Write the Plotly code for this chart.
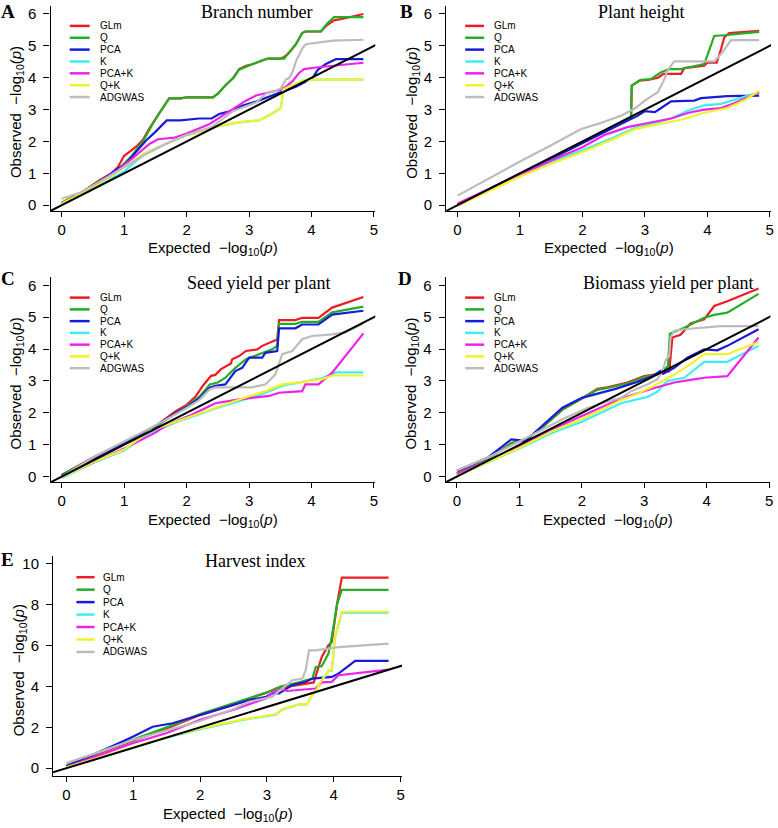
import plotly.graph_objects as go

W, H = 778, 828

series_names = ["GLm", "Q", "PCA", "K", "PCA+K", "Q+K", "ADGWAS"]
series_colors = ["#ec1c24", "#22b022", "#1a1ad8", "#40eef0", "#ee22ee", "#f2f22a", "#bcbcbc"]

panel_titles = ["Branch number", "Plant height", "Seed yield per plant",
                "Biomass yield per plant", "Harvest index"]
panel_letters = ["A", "B", "C", "D", "E"]

x_ticks = [0, 1, 2, 3, 4, 5]
y_ticks_6 = [0, 1, 2, 3, 4, 5, 6]
y_ticks_10 = [0, 2, 4, 6, 8, 10]

# ---------------- Panel A: Branch number ----------------
A_GLm = [[0, 0.08], [0.3, 0.38], [0.6, 0.78], [0.8, 1.0], [0.9, 1.2], [1.0, 1.55], [1.1, 1.7], [1.2, 1.85],
         [1.3, 2.05], [1.4, 2.4], [1.5, 2.7], [1.6, 3.0], [1.72, 3.35], [1.9, 3.35], [2.0, 3.38], [2.42, 3.38],
         [2.5, 3.5], [2.63, 3.78], [2.75, 4.0], [2.84, 4.27], [2.95, 4.37], [3.05, 4.42], [3.21, 4.55],
         [3.3, 4.6], [3.5, 4.6], [3.56, 4.65], [3.62, 4.75], [3.67, 4.85], [3.75, 5.05], [3.85, 5.4],
         [3.9, 5.45], [4.15, 5.45], [4.25, 5.65], [4.36, 5.8], [4.5, 5.85], [4.7, 5.95], [4.83, 6.0]]
A_Q = [[0, 0.08], [0.3, 0.36], [0.6, 0.75], [0.8, 0.95], [0.9, 1.12], [1.0, 1.3], [1.1, 1.5], [1.2, 1.75],
       [1.3, 2.0], [1.4, 2.35], [1.5, 2.7], [1.6, 3.0], [1.72, 3.35], [1.9, 3.35], [2.0, 3.38], [2.42, 3.38],
       [2.5, 3.5], [2.63, 3.78], [2.75, 4.0], [2.84, 4.25], [2.95, 4.35], [3.05, 4.42], [3.21, 4.55],
       [3.3, 4.6], [3.56, 4.6], [3.62, 4.75], [3.67, 4.85], [3.75, 5.05], [3.85, 5.4], [3.9, 5.45],
       [4.15, 5.45], [4.25, 5.7], [4.36, 5.9], [4.83, 5.9]]
A_PCA = [[0, 0.05], [0.3, 0.35], [0.6, 0.72], [0.9, 1.15], [1.0, 1.25], [1.2, 1.7], [1.35, 2.03], [1.5, 2.3],
         [1.57, 2.45], [1.68, 2.66], [1.9, 2.66], [2.2, 2.72], [2.4, 2.72], [2.52, 2.86], [2.7, 2.95],
         [2.9, 3.13], [3.11, 3.25], [3.25, 3.35], [3.38, 3.44], [3.59, 3.59], [3.75, 3.72], [3.91, 3.88],
         [4.02, 4.0], [4.1, 4.25], [4.23, 4.43], [4.39, 4.58], [4.83, 4.58]]
A_K = [[0, 0.03], [0.3, 0.3], [0.6, 0.62], [0.8, 0.85], [1.0, 1.06], [1.2, 1.4], [1.35, 1.65], [1.67, 1.93],
       [2.0, 2.2], [2.21, 2.29], [2.52, 2.49], [2.84, 2.6], [3.16, 2.66], [3.32, 2.82], [3.45, 2.97],
       [3.51, 3.07], [3.55, 3.62], [3.64, 3.72], [3.75, 3.8], [3.85, 3.9], [4.02, 3.94], [4.83, 3.94]]
A_PCAK = [[0, 0.05], [0.3, 0.35], [0.6, 0.72], [0.9, 1.1], [1.15, 1.5], [1.3, 1.75], [1.41, 1.93],
          [1.54, 2.07], [1.81, 2.12], [1.99, 2.24], [2.2, 2.4], [2.37, 2.55], [2.55, 2.78], [2.74, 3.02],
          [2.95, 3.28], [3.11, 3.44], [3.38, 3.55], [3.5, 3.62], [3.59, 3.72], [3.7, 3.9], [3.8, 4.15],
          [3.88, 4.27], [4.07, 4.32], [4.4, 4.38], [4.83, 4.47]]
A_QK = [[0, 0.05], [0.3, 0.35], [0.6, 0.68], [0.8, 0.92], [1.0, 1.2], [1.3, 1.6], [1.67, 1.93], [2.0, 2.2],
        [2.21, 2.29], [2.52, 2.49], [2.84, 2.6], [3.16, 2.66], [3.32, 2.82], [3.45, 2.97], [3.51, 3.07],
        [3.55, 3.64], [3.64, 3.72], [3.75, 3.8], [3.85, 3.9], [4.02, 3.94], [4.83, 3.94]]
A_ADGWAS = [[0, 0.2], [0.3, 0.4], [0.6, 0.72], [1.0, 1.18], [1.3, 1.55], [1.67, 1.93], [2.0, 2.2],
            [2.4, 2.45], [2.74, 2.95], [3.11, 3.22], [3.27, 3.5], [3.43, 3.59], [3.51, 3.67], [3.59, 3.95],
            [3.64, 3.98], [3.7, 4.2], [3.75, 4.52], [3.86, 4.94], [3.91, 5.05], [4.34, 5.16], [4.83, 5.19]]

# ---------------- Panel B: Plant height ----------------
B_GLm = [[0, 0.02], [1, 0.97], [2, 1.95], [2.5, 2.45], [2.7, 2.68], [2.78, 2.76], [2.79, 3.75], [2.91, 3.91],
         [3.05, 3.93], [3.21, 4.0], [3.3, 4.12], [3.58, 4.12], [3.63, 4.3], [3.95, 4.38], [4.0, 4.47],
         [4.15, 4.47], [4.22, 4.9], [4.27, 5.26], [4.35, 5.4], [4.83, 5.47]]
B_Q = [[0, 0.02], [1, 0.97], [2, 1.95], [2.5, 2.45], [2.7, 2.68], [2.78, 2.76], [2.79, 3.75], [2.94, 3.93],
       [3.1, 3.96], [3.26, 4.17], [3.39, 4.27], [3.58, 4.27], [3.69, 4.32], [3.95, 4.43], [4.0, 4.69],
       [4.11, 5.31], [4.32, 5.34], [4.83, 5.44]]
B_PCA = [[0, 0.02], [1, 0.98], [2, 1.95], [2.3, 2.25], [2.62, 2.55], [2.89, 2.81], [3.0, 2.95], [3.16, 2.92],
         [3.26, 3.05], [3.42, 3.26], [3.79, 3.28], [3.9, 3.36], [4.32, 3.42], [4.83, 3.44]]
B_K = [[0, 0.0], [0.5, 0.47], [1, 0.92], [1.5, 1.36], [2, 1.72], [2.5, 2.12], [2.83, 2.42], [3.16, 2.57],
       [3.47, 2.76], [3.69, 2.97], [3.95, 3.13], [4.22, 3.18], [4.59, 3.39], [4.83, 3.54]]
B_PCAK = [[0, 0.05], [0.5, 0.5], [1, 0.95], [1.5, 1.4], [2, 1.82], [2.35, 2.2], [2.5, 2.3], [2.72, 2.45],
          [3.05, 2.58], [3.42, 2.72], [3.7, 2.9], [3.95, 3.0], [4.22, 3.05], [4.43, 3.2], [4.83, 3.54]]
B_QK = [[0, -0.02], [0.5, 0.45], [1, 0.9], [1.5, 1.3], [2, 1.67], [2.5, 2.08], [2.83, 2.38], [3.16, 2.52],
        [3.58, 2.68], [3.95, 2.9], [4.32, 3.05], [4.6, 3.3], [4.83, 3.59]]
B_ADGWAS = [[0, 0.3], [0.49, 0.83], [1.0, 1.37], [1.5, 1.88], [1.98, 2.39], [2.25, 2.55], [2.62, 2.81],
            [2.85, 3.05], [3.0, 3.28], [3.21, 3.55], [3.3, 3.9], [3.37, 4.25], [3.47, 4.51], [4.11, 4.51],
            [4.22, 4.74], [4.38, 5.18], [4.83, 5.18]]

# ---------------- Panel C: Seed yield per plant ----------------
C_GLm = [[0, 0.05], [0.5, 0.6], [1, 1.08], [1.5, 1.58], [1.83, 2.06], [2.0, 2.25], [2.15, 2.53], [2.26, 2.85],
         [2.39, 3.16], [2.46, 3.19], [2.55, 3.37], [2.71, 3.55], [2.73, 3.68], [2.84, 3.78], [2.95, 3.94],
         [3.13, 3.99], [3.21, 4.1], [3.32, 4.2], [3.45, 4.3], [3.48, 4.91], [3.74, 4.91], [3.85, 4.98],
         [4.11, 4.98], [4.33, 5.3], [4.83, 5.63]]
C_Q = [[0, 0.05], [0.5, 0.58], [1, 1.06], [1.5, 1.55], [1.83, 2.0], [2.0, 2.2], [2.2, 2.5], [2.37, 2.89],
       [2.5, 2.95], [2.62, 3.1], [2.78, 3.41], [2.95, 3.68], [3.16, 3.84], [3.37, 3.99], [3.45, 4.1],
       [3.48, 4.79], [3.74, 4.79], [3.85, 4.85], [4.11, 4.85], [4.33, 5.15], [4.83, 5.33]]
C_PCA = [[0, 0.03], [0.5, 0.55], [1, 1.05], [1.5, 1.58], [1.83, 2.0], [2.0, 2.18], [2.2, 2.45], [2.37, 2.79],
         [2.46, 2.85], [2.62, 2.89], [2.78, 3.31], [2.89, 3.41], [3.0, 3.73], [3.21, 3.73], [3.26, 3.88],
         [3.45, 3.94], [3.48, 4.65], [3.74, 4.65], [3.85, 4.77], [4.11, 4.77], [4.33, 5.08], [4.83, 5.2]]
C_K = [[0, -0.04], [0.5, 0.43], [1, 0.82], [1.41, 1.38], [1.94, 1.78], [2.46, 2.14], [2.89, 2.4],
       [3.26, 2.62], [3.53, 2.85], [3.9, 2.98], [4.16, 3.08], [4.4, 3.27], [4.83, 3.27]]
C_PCAK = [[0, 0.0], [0.5, 0.45], [1, 0.88], [1.5, 1.38], [1.67, 1.6], [2.09, 1.95], [2.46, 2.3], [2.84, 2.42],
          [3.32, 2.53], [3.48, 2.63], [3.85, 2.68], [3.9, 2.89], [4.11, 2.89], [4.33, 3.26], [4.83, 4.49]]
C_QK = [[0, -0.02], [0.5, 0.45], [1, 0.85], [1.41, 1.43], [1.94, 1.8], [2.46, 2.16], [2.89, 2.45],
        [3.26, 2.68], [3.53, 2.89], [3.9, 2.98], [4.16, 3.05], [4.33, 3.17], [4.83, 3.17]]
C_ADGWAS = [[0, 0.0], [0.5, 0.6], [1, 1.1], [1.5, 1.6], [2.0, 2.15], [2.2, 2.4], [2.37, 2.74], [2.46, 2.8],
            [3.05, 2.8], [3.26, 2.89], [3.42, 3.2], [3.53, 3.84], [3.69, 3.94], [3.85, 4.31], [4.01, 4.41],
            [4.33, 4.46], [4.55, 4.53], [4.83, 4.8]]

# ---------------- Panel D: Biomass yield per plant ----------------
D_GLm = [[0, 0.1], [0.5, 0.55], [0.87, 1.05], [1.1, 1.15], [1.37, 1.55], [1.69, 2.1], [2.0, 2.45],
         [2.25, 2.75], [2.41, 2.8], [2.73, 2.95], [3.0, 3.15], [3.16, 3.2], [3.26, 3.27], [3.4, 3.3],
         [3.45, 4.36], [3.58, 4.45], [3.74, 4.8], [3.96, 4.93], [4.12, 5.35], [4.33, 5.5], [4.83, 5.9]]
D_Q = [[0, 0.1], [0.5, 0.55], [0.87, 1.05], [1.1, 1.15], [1.37, 1.55], [1.69, 2.1], [2.0, 2.45],
       [2.25, 2.72], [2.41, 2.78], [2.73, 2.92], [3.0, 3.12], [3.16, 3.18], [3.26, 3.25], [3.38, 3.47],
       [3.41, 4.48], [3.64, 4.67], [3.96, 4.98], [4.12, 5.07], [4.33, 5.14], [4.83, 5.73]]
D_PCA = [[0, 0.18], [0.5, 0.6], [0.87, 1.17], [1.1, 1.12], [1.37, 1.6], [1.69, 2.16], [2.0, 2.47],
         [2.28, 2.62], [2.54, 2.75], [2.86, 2.95], [3.13, 3.15], [3.26, 3.31], [3.3, 3.22], [3.48, 3.41],
         [3.69, 3.73], [3.96, 3.99], [4.17, 3.96], [4.33, 4.1], [4.83, 4.62]]
D_K = [[0, 0.05], [0.5, 0.45], [1, 0.88], [1.5, 1.35], [2.0, 1.72], [2.63, 2.3], [3.05, 2.5], [3.2, 2.65],
       [3.37, 3.0], [3.64, 3.1], [3.96, 3.6], [4.33, 3.6], [4.83, 4.1]]
D_PCAK = [[0, 0.08], [0.5, 0.5], [1, 0.95], [1.5, 1.45], [2.0, 1.9], [2.63, 2.45], [3.16, 2.78],
          [3.48, 2.95], [3.69, 3.02], [3.96, 3.1], [4.33, 3.15], [4.83, 4.36]]
D_QK = [[0, 0.02], [0.5, 0.45], [1, 0.9], [1.5, 1.4], [2.0, 1.8], [2.63, 2.4], [2.89, 2.6], [3.16, 2.85],
        [3.48, 3.2], [3.74, 3.52], [3.96, 3.84], [4.33, 3.84], [4.83, 4.22]]
D_ADGWAS = [[0, 0.2], [0.5, 0.6], [1.0, 1.1], [1.3, 1.4], [1.69, 1.8], [2.09, 2.15], [2.4, 2.35],
            [2.63, 2.47], [2.79, 2.68], [3.05, 2.89], [3.21, 3.05], [3.29, 3.31], [3.35, 3.68], [3.4, 3.78],
            [3.42, 4.36], [3.48, 4.57], [3.64, 4.62], [4.22, 4.72], [4.83, 4.72]]

# ---------------- Panel E: Harvest index ----------------
E_GLm = [[0, 0.1], [0.5, 0.75], [1, 1.35], [1.5, 1.95], [2, 2.6], [2.5, 3.1], [2.88, 3.58], [3.0, 3.7],
         [3.13, 3.9], [3.28, 3.98], [3.63, 4.15], [3.7, 4.2], [3.82, 5.45], [3.92, 6.02], [3.97, 6.18],
         [4.05, 8.05], [4.12, 9.33], [4.82, 9.33]]
E_Q = [[0, 0.15], [0.5, 0.8], [1, 1.4], [1.5, 2.0], [2, 2.65], [2.5, 3.2], [3.08, 3.8], [3.2, 4.0],
       [3.48, 4.2], [3.68, 4.39], [3.73, 4.96], [3.82, 4.99], [3.92, 5.61], [3.97, 6.42], [4.05, 8.05],
       [4.12, 8.73], [4.82, 8.73]]
E_PCA = [[0, 0.1], [0.5, 0.8], [1, 1.55], [1.29, 2.03], [1.59, 2.2], [1.99, 2.6], [2.49, 3.09], [2.73, 3.33],
         [2.99, 3.5], [3.08, 3.66], [3.18, 3.66], [3.38, 4.07], [3.58, 4.23], [3.68, 4.39], [3.97, 4.47],
         [4.07, 4.63], [4.32, 5.25], [4.82, 5.25]]
E_K = [[0, 0.05], [0.5, 0.5], [1, 1.0], [1.5, 1.5], [1.99, 1.9], [2.64, 2.37], [3.13, 2.62], [3.23, 2.88],
       [3.48, 3.12], [3.6, 3.12], [3.65, 3.45], [3.73, 3.78], [3.8, 4.2], [3.92, 4.78], [3.97, 4.78],
       [4.02, 6.42], [4.12, 7.62], [4.82, 7.62]]
E_PCAK = [[0, 0.05], [0.5, 0.65], [0.99, 1.22], [1.49, 1.71], [1.99, 2.36], [2.49, 2.85], [2.78, 3.2],
          [2.99, 3.42], [3.1, 3.75], [3.23, 3.85], [3.3, 3.78], [3.73, 3.9], [3.82, 4.2], [3.97, 4.23],
          [4.07, 4.55], [4.27, 4.63], [4.82, 4.83]]
E_QK = [[0, 0.05], [0.5, 0.52], [1, 1.02], [1.5, 1.52], [1.99, 1.93], [2.64, 2.39], [3.13, 2.64],
        [3.23, 2.9], [3.48, 3.13], [3.6, 3.13], [3.65, 3.45], [3.73, 3.78], [3.8, 4.2], [3.92, 4.78],
        [3.97, 4.78], [4.02, 6.42], [4.12, 7.66], [4.82, 7.66]]
E_ADGWAS = [[0, 0.25], [0.5, 0.8], [0.99, 1.38], [1.5, 1.85], [1.99, 2.3], [2.5, 2.9], [2.73, 3.25],
            [3.08, 3.5], [3.28, 4.07], [3.38, 4.31], [3.53, 4.39], [3.58, 4.8], [3.63, 5.77], [3.73, 5.77],
            [4.07, 5.93], [4.82, 6.1]]

panel_series = [
    [A_GLm, A_Q, A_PCA, A_K, A_PCAK, A_QK, A_ADGWAS],
    [B_GLm, B_Q, B_PCA, B_K, B_PCAK, B_QK, B_ADGWAS],
    [C_GLm, C_Q, C_PCA, C_K, C_PCAK, C_QK, C_ADGWAS],
    [D_GLm, D_Q, D_PCA, D_K, D_PCAK, D_QK, D_ADGWAS],
    [E_GLm, E_Q, E_PCA, E_K, E_PCAK, E_QK, E_ADGWAS],
]

# ---------------- layout geometry (pixels) ----------------
# (left, right, top, bottom) of each plotting region
regions = [
    (50.7, 376.7, 5.0, 210.7),
    (448.0, 774.0, 5.0, 210.7),
    (50.7, 376.7, 277.3, 483.1),
    (447.4, 773.4, 277.3, 483.1),
    (53.3, 403.5, 556.8, 778.2),
]
x_ranges = [[-0.18, 5.02]] * 4 + [[-0.2, 5.02]]
y_ranges = [[-0.18, 6.25]] * 4 + [[-0.4, 10.4]]
y_tickvals = [y_ticks_6] * 4 + [y_ticks_10]

title_pos = [(257, 11), (644, 11), (260, 283), (671, 283), (256, 562)]
letter_pos = [(8.5, 11), (408, 11), (8.5, 279), (407, 279), (8, 561)]
xlabel_off = [38, 38, 38, 38, 38]
# legend: line x0, line x1, text x, first row y, row spacing
legend_pos = [(70, 90, 98, 25, 11.9), (467, 486, 494, 25, 11.9),
              (70, 90, 98, 297.7, 11.8), (467, 486, 494, 297.7, 11.8),
              (76.7, 95, 101.7, 578.3, 12.5)]


def px(x):
    return x / W


def py(y):
    return 1 - y / H


fig = go.Figure()
annotations = []
shapes = []
SANS = "Liberation Sans, Arial, sans-serif"
SERIF = "Liberation Serif, Times New Roman, serif"

for i in range(5):
    xa = "x" if i == 0 else f"x{i + 1}"
    ya = "y" if i == 0 else f"y{i + 1}"
    for name, color, pts in zip(series_names, series_colors, panel_series[i]):
        xs = [p[0] for p in pts]
        ys = [p[1] for p in pts]
        fig.add_trace(go.Scatter(x=xs, y=ys, mode="lines", name=name, showlegend=False,
                                 line=dict(color=color, width=2.2), xaxis=xa, yaxis=ya,
                                 hoverinfo="skip"))
    # reference line y = x
    lo = min(x_ranges[i][0], y_ranges[i][0]) - 0.5
    hi = max(x_ranges[i][1], y_ranges[i][1]) + 0.5
    fig.add_trace(go.Scatter(x=[lo, hi], y=[lo, hi], mode="lines", showlegend=False,
                             line=dict(color="black", width=2), xaxis=xa, yaxis=ya,
                             hoverinfo="skip"))

    l, r, t, b = regions[i]
    axis_common = dict(showline=True, linecolor="black", linewidth=1.2, ticks="outside",
                       tickwidth=1.2, tickcolor="black", showgrid=False,
                       zeroline=False, mirror=False, ticklabeloverflow="allow",
                       tickfont=dict(family=SANS, size=15, color="black"))
    fig.layout[f"xaxis{'' if i == 0 else i + 1}"] = dict(
        domain=[px(l), px(r)], range=x_ranges[i], tickvals=x_ticks, anchor=ya, ticklen=5,
        **axis_common)
    fig.layout[f"yaxis{'' if i == 0 else i + 1}"] = dict(
        domain=[py(b), py(t)], range=y_ranges[i], tickvals=y_tickvals[i], anchor=xa, ticklen=6,
        ticklabelstandoff=4, **axis_common)

    # axis titles
    annotations.append(dict(x=px((l + r) / 2), y=py(b + xlabel_off[i]), xref="paper", yref="paper",
                            text="Expected  \u2212log<sub>10</sub>(<i>p</i>)", showarrow=False,
                            xanchor="center", yanchor="middle",
                            font=dict(family=SANS, size=15, color="black")))
    annotations.append(dict(x=px(l - 34), y=py((t + b) / 2 + 4), xref="paper", yref="paper",
                            text="Observed  \u2212log<sub>10</sub>(<i>p</i>)", showarrow=False,
                            textangle=-90, xanchor="center", yanchor="middle",
                            font=dict(family=SANS, size=15, color="black")))
    # panel title
    tx, ty = title_pos[i]
    annotations.append(dict(x=px(tx), y=py(ty), xref="paper", yref="paper", text=panel_titles[i],
                            showarrow=False, xanchor="center", yanchor="middle",
                            font=dict(family=SERIF, size=18, color="black")))
    # panel letter
    lx, ly = letter_pos[i]
    annotations.append(dict(x=px(lx), y=py(ly), xref="paper", yref="paper",
                            text=f"<b>{panel_letters[i]}</b>", showarrow=False,
                            xanchor="center", yanchor="middle",
                            font=dict(family=SERIF, size=19, color="black")))
    # legend
    lx0, lx1, ltx, ly0, ldy = legend_pos[i]
    for k, (name, color) in enumerate(zip(series_names, series_colors)):
        yy = ly0 + k * ldy
        shapes.append(dict(type="line", xref="paper", yref="paper", x0=px(lx0), x1=px(lx1),
                           y0=py(yy), y1=py(yy), line=dict(color=color, width=2.5)))
        annotations.append(dict(x=px(ltx), y=py(yy), xref="paper", yref="paper", text=name,
                                showarrow=False, xanchor="left", yanchor="middle",
                                font=dict(family=SANS, size=10, color="black")))

fig.update_layout(width=W, height=H, margin=dict(l=0, r=0, t=0, b=0),
                  paper_bgcolor="white", plot_bgcolor="white",
                  annotations=annotations, shapes=shapes, showlegend=False)

fig.write_html("out.html", config={"displayModeBar": False},
               post_script="document.body.style.margin='0';document.body.style.overflow='hidden';")
